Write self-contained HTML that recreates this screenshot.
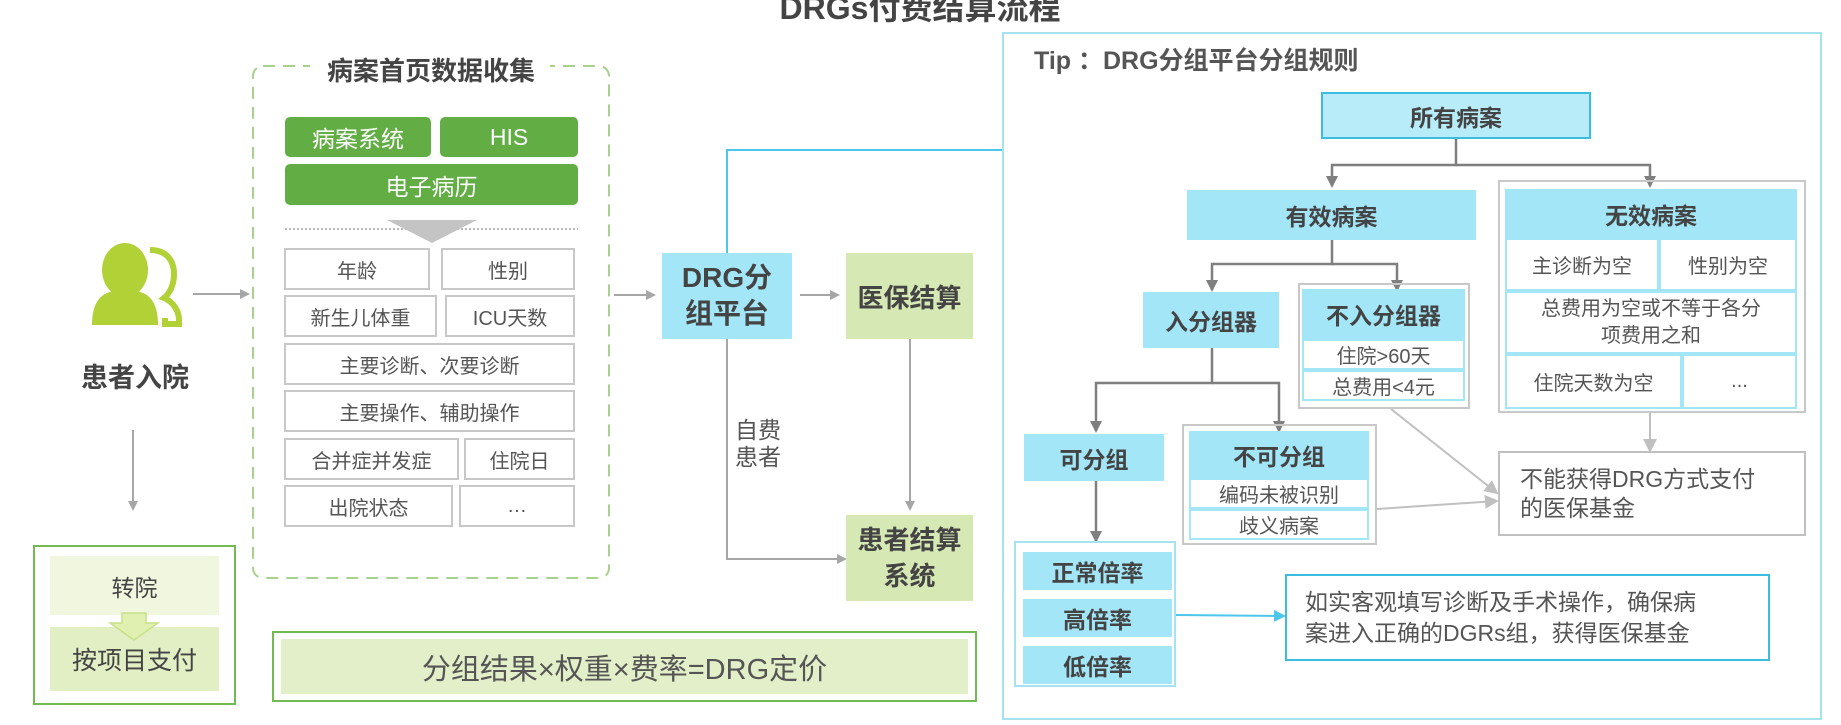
<!DOCTYPE html>
<html><head><meta charset="utf-8"><style>
body{margin:0;width:1841px;height:725px;position:relative;overflow:hidden;background:#fff;font-family:"Liberation Sans","Noto Sans CJK SC",sans-serif;color:#555}
.b{position:absolute;box-sizing:border-box;display:flex;align-items:center;justify-content:center;text-align:center}
.g{background:#63ad45;color:#fff;border-radius:5px;font-size:23px}
.c{border:2px solid #c8c8c8;background:#fff;font-size:20px;color:#555}
.bl{background:#a3e6f7;font-weight:bold;color:#444;font-size:23px}
.lg{background:#d6e8b4;font-weight:bold;color:#444;font-size:26px}
.cell{border:2px solid #a3e6f7;background:#fff;font-size:20px;color:#555}
svg{position:absolute;left:0;top:0}
</style></head><body>
<div class="b" style="left:620px;top:-14px;width:600px;height:40px;font-size:32px;font-weight:bold;color:#444">DRGs付费结算流程</div>

<svg width="1841" height="725">
<defs>
<marker id="ag" markerWidth="10" markerHeight="10" refX="8" refY="5" orient="auto" markerUnits="userSpaceOnUse"><path d="M0,0L10,5L0,10z" fill="#a6a6a6"/></marker>
<marker id="ad" markerWidth="12" markerHeight="12" refX="10" refY="6" orient="auto" markerUnits="userSpaceOnUse"><path d="M0,0L12,6L0,12z" fill="#7f7f7f"/></marker>
<marker id="ab" markerWidth="12" markerHeight="12" refX="10" refY="6" orient="auto" markerUnits="userSpaceOnUse"><path d="M0,0L12,6L0,12z" fill="#4cc6ea"/></marker>
<marker id="al" markerWidth="14" markerHeight="14" refX="12" refY="7" orient="auto" markerUnits="userSpaceOnUse"><path d="M0,0L14,7L0,14z" fill="#c0c0c0"/></marker>
</defs>
<g stroke="#a6a6a6" stroke-width="2" fill="none">
<line x1="193" y1="294" x2="248" y2="294" marker-end="url(#ag)"/>
<line x1="133" y1="430" x2="133" y2="509" marker-end="url(#ag)"/>
<line x1="614" y1="295" x2="654" y2="295" marker-end="url(#ag)"/>
<line x1="800" y1="295" x2="838" y2="295" marker-end="url(#ag)"/>
<line x1="910" y1="339" x2="910" y2="509" marker-end="url(#ag)"/>
<polyline points="727,339 727,559 845,559" marker-end="url(#ag)"/>
</g>
<polyline points="727,253 727,150 1003,150" stroke="#4cc6ea" stroke-width="2" fill="none"/>
<rect x="253" y="66" width="356" height="512" rx="10" fill="none" stroke="#a9d18e" stroke-width="2" stroke-dasharray="12,8"/>
<rect x="310" y="54" width="240" height="28" fill="#fff"/>
<line x1="285" y1="229" x2="578" y2="229" stroke="#bbb" stroke-width="2" stroke-dasharray="2,2"/>
<path d="M387,220L477,220L432,243z" fill="#c4c4c4"/>
<rect x="1003" y="33" width="818" height="686" fill="none" stroke="#a6e3f0" stroke-width="2"/>
<g stroke="#7f7f7f" stroke-width="2.5" fill="none">
<polyline points="1456,139 1456,165 1332,165 1332,186" marker-end="url(#ad)"/>
<polyline points="1456,165 1650,165 1650,186" marker-end="url(#ad)"/>
<polyline points="1332,240 1332,264 1212,264 1212,290" marker-end="url(#ad)"/>
<polyline points="1332,264 1397,264 1397,290" marker-end="url(#ad)"/>
<polyline points="1212,348 1212,383 1096,383 1096,431" marker-end="url(#ad)"/>
<polyline points="1212,383 1279,383 1279,431" marker-end="url(#ad)"/>
<line x1="1096" y1="481" x2="1096" y2="541" marker-end="url(#ad)"/>
</g>
<g stroke="#c0c0c0" stroke-width="2" fill="none">
<line x1="1650" y1="413" x2="1650" y2="451" marker-end="url(#al)"/>
<line x1="1391" y1="409" x2="1497" y2="493" marker-end="url(#al)"/>
<line x1="1377" y1="509" x2="1497" y2="501" marker-end="url(#al)"/>
</g>
<line x1="1176" y1="615" x2="1284" y2="616" stroke="#4cc6ea" stroke-width="2" marker-end="url(#ab)"/>
<g fill="#b1d136">
<path d="M150,250 c16,0 24,10 24,24 c0,12 -5,20 -10,24 c10,4 15,14 15,22 l0,4 l-14,0 l0,-6" fill="none" stroke="#b1d136" stroke-width="6"/>
<ellipse cx="125" cy="270" rx="23" ry="27"/>
<path d="M92,325 c0,-30 15,-35 33,-35 c18,0 33,5 33,35 z"/>
</g>
</svg>

<div class="b" style="left:70px;top:355px;width:130px;height:40px;font-size:27px;font-weight:bold;color:#444">患者入院</div>
<div class="b" style="left:33px;top:545px;width:203px;height:160px;border:2px solid #72bb53"></div>
<div class="b" style="left:50px;top:556px;width:169px;height:59px;background:#f1f6de;font-size:23px;color:#444">转院</div>
<div class="b" style="left:50px;top:627px;width:169px;height:64px;background:#e2efc4;font-size:25px;color:#444">按项目支付</div>
<svg width="1841" height="725" style="pointer-events:none"><path d="M122,613L146,613L146,623L158,623L134,640L110,623L122,623z" fill="#dff0b0" stroke="#c8e08a" stroke-width="1.5"/></svg>

<div class="b" style="left:253px;top:52px;width:356px;height:34px;font-size:26px;font-weight:bold;color:#444">病案首页数据收集</div>
<div class="b g" style="left:285px;top:117px;width:146px;height:40px">病案系统</div>
<div class="b g" style="left:440px;top:117px;width:138px;height:40px">HIS</div>
<div class="b g" style="left:285px;top:164px;width:293px;height:41px">电子病历</div>
<div class="b c" style="left:284px;top:248px;width:146px;height:42px">年龄</div>
<div class="b c" style="left:441px;top:248px;width:134px;height:42px">性别</div>
<div class="b c" style="left:284px;top:295px;width:153px;height:42px">新生儿体重</div>
<div class="b c" style="left:445px;top:295px;width:130px;height:42px">ICU天数</div>
<div class="b c" style="left:284px;top:343px;width:291px;height:42px">主要诊断、次要诊断</div>
<div class="b c" style="left:284px;top:390px;width:291px;height:42px">主要操作、辅助操作</div>
<div class="b c" style="left:284px;top:438px;width:175px;height:42px">合并症并发症</div>
<div class="b c" style="left:464px;top:438px;width:111px;height:42px">住院日</div>
<div class="b c" style="left:284px;top:485px;width:169px;height:42px">出院状态</div>
<div class="b c" style="left:459px;top:485px;width:116px;height:42px">…</div>

<div class="b bl" style="left:662px;top:253px;width:130px;height:86px;font-size:28px;line-height:36px">DRG分<br>组平台</div>
<div class="b lg" style="left:846px;top:253px;width:127px;height:86px">医保结算</div>
<div class="b lg" style="left:846px;top:515px;width:127px;height:86px;line-height:36px">患者结算<br>系统</div>
<div class="b" style="left:732px;top:416px;width:52px;height:56px;font-size:23px;line-height:27px;color:#555">自费<br>患者</div>

<div class="b" style="left:272px;top:631px;width:705px;height:71px;border:2px solid #72bb53"></div>
<div class="b" style="left:281px;top:639px;width:687px;height:55px;background:#e2efc8;font-size:29px;color:#555">分组结果×权重×费率=DRG定价</div>

<div class="b" style="left:1034px;top:42px;width:420px;height:34px;justify-content:flex-start;font-size:25px;font-weight:bold;color:#555">Tip ：DRG分组平台分组规则</div>
<div class="b bl" style="left:1321px;top:92px;width:270px;height:47px;background:#b9ecf9;border:2px solid #3bbde0">所有病案</div>
<div class="b bl" style="left:1187px;top:190px;width:289px;height:50px">有效病案</div>
<div class="b" style="left:1498px;top:180px;width:308px;height:233px;border:2px solid #c8c8c8"></div>
<div class="b bl" style="left:1505px;top:189px;width:292px;height:49px">无效病案</div>
<div class="b cell" style="left:1505px;top:238px;width:154px;height:53px">主诊断为空</div>
<div class="b cell" style="left:1659px;top:238px;width:138px;height:53px">性别为空</div>
<div class="b cell" style="left:1505px;top:291px;width:292px;height:63px;line-height:27px">总费用为空或不等于各分<br>项费用之和</div>
<div class="b cell" style="left:1505px;top:354px;width:177px;height:55px">住院天数为空</div>
<div class="b cell" style="left:1682px;top:354px;width:115px;height:55px">...</div>

<div class="b bl" style="left:1143px;top:292px;width:136px;height:56px">入分组器</div>
<div class="b" style="left:1298px;top:283px;width:172px;height:126px;border:2px solid #c8c8c8"></div>
<div class="b bl" style="left:1302px;top:289px;width:163px;height:50px">不入分组器</div>
<div class="b cell" style="left:1302px;top:339px;width:163px;height:31px">住院&gt;60天</div>
<div class="b cell" style="left:1302px;top:370px;width:163px;height:31px">总费用&lt;4元</div>

<div class="b bl" style="left:1024px;top:434px;width:140px;height:47px">可分组</div>
<div class="b" style="left:1182px;top:424px;width:195px;height:121px;border:2px solid #c8c8c8"></div>
<div class="b bl" style="left:1189px;top:431px;width:180px;height:47px">不可分组</div>
<div class="b cell" style="left:1189px;top:478px;width:180px;height:31px">编码未被识别</div>
<div class="b cell" style="left:1189px;top:509px;width:180px;height:31px">歧义病案</div>

<div class="b" style="left:1014px;top:541px;width:162px;height:146px;border:2px solid #a6e3f0"></div>
<div class="b bl" style="left:1023px;top:552px;width:149px;height:38px">正常倍率</div>
<div class="b bl" style="left:1023px;top:599px;width:149px;height:38px">高倍率</div>
<div class="b bl" style="left:1023px;top:646px;width:149px;height:38px">低倍率</div>

<div class="b" style="left:1498px;top:451px;width:308px;height:85px;border:2px solid #c0c0c0;justify-content:flex-start;text-align:left;padding-left:20px;font-size:23px;line-height:29px;color:#555">不能获得DRG方式支付<br>的医保基金</div>
<div class="b" style="left:1285px;top:574px;width:485px;height:87px;border:2px solid #3bbde0;justify-content:flex-start;text-align:left;padding-left:18px;font-size:23px;line-height:31px;color:#555">如实客观填写诊断及手术操作，确保病<br>案进入正确的DGRs组，获得医保基金</div>
</body></html>
